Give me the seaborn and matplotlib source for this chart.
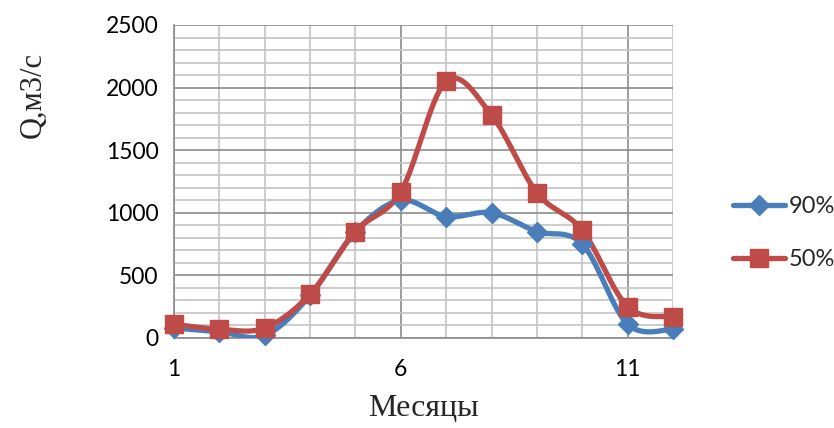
import numpy as np
import pandas as pd
import matplotlib
matplotlib.use("Agg")
import matplotlib.pyplot as plt
import seaborn as sns
from matplotlib.ticker import MultipleLocator

months = [1, 2, 3, 4, 5, 6, 7, 8, 9, 10, 11, 12]
q90 = [80, 50, 20, 340, 850, 1100, 970, 1000, 850, 750, 110, 70]
q50 = [110, 70, 80, 350, 850, 1170, 2050, 1780, 1160, 860, 250, 170]
series_names = ["90%", "50%"]

sns.set_theme(style="white")
plt.rcParams["font.family"] = ["Lato", "DejaVu Sans"]

fig = plt.figure(figsize=(8.34, 4.28), dpi=100)
ax = fig.add_axes([0.2086, 0.2103, 0.807 - 0.2086, 0.9416 - 0.2103])


def smooth(x, y, n=30):
    x = np.asarray(x, float)
    y = np.asarray(y, float)
    xs, ys = [], []
    for i in range(len(x) - 1):
        p0 = np.array([x[max(i - 1, 0)], y[max(i - 1, 0)]])
        p1 = np.array([x[i], y[i]])
        p2 = np.array([x[i + 1], y[i + 1]])
        p3 = np.array([x[min(i + 2, len(x) - 1)], y[min(i + 2, len(x) - 1)]])
        c1 = p1 + (p2 - p0) / 6
        c2 = p2 - (p3 - p1) / 6
        t = np.linspace(0, 1, n)[:, None]
        pts = (1 - t) ** 3 * p1 + 3 * (1 - t) ** 2 * t * c1 + 3 * (1 - t) * t ** 2 * c2 + t ** 3 * p2
        xs.extend(pts[:, 0]); ys.extend(pts[:, 1])
    return np.array(xs), np.array(ys)


colors = ["#4A7EBB", "#BE4B48"]
markers = ["D", "s"]
msizes = [10, 13]
handles = []
for name, vals, c, m, ms in zip(series_names, [q90, q50], colors, markers, msizes):
    sx, sy = smooth(months, vals)
    sns.lineplot(x=sx, y=sy, ax=ax, color=c, lw=3.8, sort=False, zorder=3,
                 solid_capstyle="round", estimator=None)
    ax.plot(months, vals, ls="none", marker=m, ms=ms, color=c, zorder=4, clip_on=False)
    h, = ax.plot([], [], color=c, lw=3.8, marker=m, ms=ms, solid_capstyle="round")
    handles.append(h)

ax.set_xlim(1, 12)
ax.set_ylim(0, 2500)
ax.xaxis.set_major_locator(MultipleLocator(5))
ax.xaxis.set_minor_locator(MultipleLocator(1))
ax.yaxis.set_major_locator(MultipleLocator(500))
ax.yaxis.set_minor_locator(MultipleLocator(100))
ax.grid(which="major", color="#8c8c8c", lw=1.2, zorder=0)
ax.grid(which="minor", color="#c4c4c4", lw=1.2, zorder=0)
ax.set_axisbelow(True)
for s in ["top", "right"]:
    ax.spines[s].set_visible(False)
for s in ["left", "bottom"]:
    ax.spines[s].set_color("#8c8c8c")
    ax.spines[s].set_linewidth(1.2)
ax.tick_params(which="major", length=6, width=1.2, color="#8c8c8c",
               labelsize=16.5, labelcolor="black", pad=5)
ax.tick_params(which="minor", length=0)
ax.tick_params(axis="x", which="major", pad=9)
ax.set_xticks([1, 6, 11])
ax.set_xticklabels(["1", "6", "11"])

ax.set_xlabel("Месяцы", fontsize=23, family=["Liberation Serif"], labelpad=10)
ax.set_ylabel("Q,м3/с", fontsize=22, family=["Liberation Serif"])
ax.yaxis.set_label_coords(-0.254, 0.776)

leg = fig.legend(handles, series_names, loc="center left", bbox_to_anchor=(0.868, 0.456),
                 frameon=False, fontsize=17, handlelength=2.2, labelspacing=1.35,
                 handletextpad=0.15, borderaxespad=0)
fig.savefig("out.png", dpi=100)
